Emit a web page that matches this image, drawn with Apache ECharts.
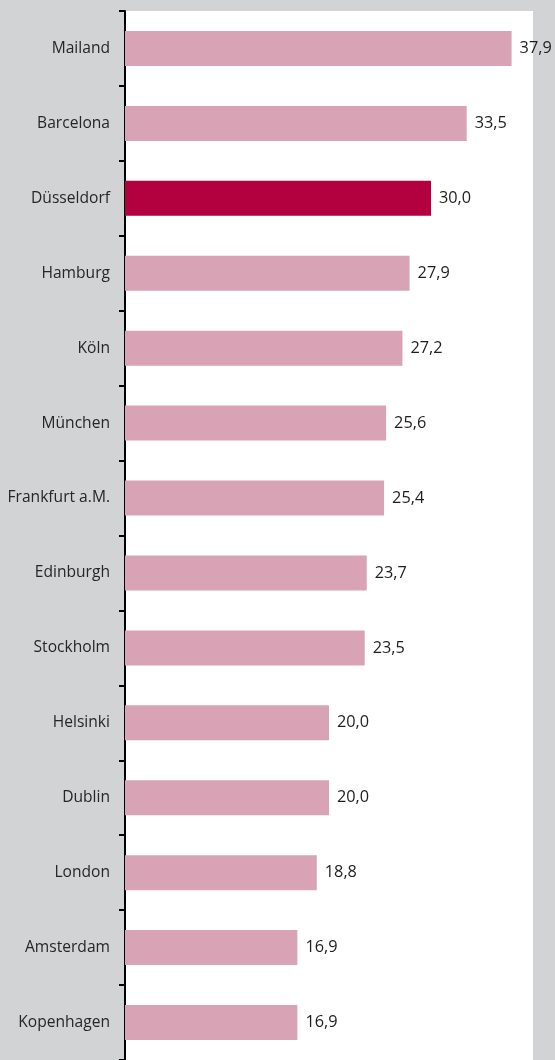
<!DOCTYPE html>
<html>
<head>
<meta charset="utf-8">
<script src="https://cdn.jsdelivr.net/npm/echarts@6/dist/echarts.min.js"></script>
<style>
  html, body { margin: 0; padding: 0; background: #d2d3d5; }
  #chart { width: 555px; height: 1060px; }
</style>
</head>
<body>
<div id="chart"></div>
<script>
// Cities, top to bottom
const cities = ['Mailand', 'Barcelona', 'Düsseldorf', 'Hamburg', 'Köln', 'München',
  'Frankfurt a.M.', 'Edinburgh', 'Stockholm', 'Helsinki', 'Dublin', 'London',
  'Amsterdam', 'Kopenhagen'];
const values = [37.9, 33.5, 30.0, 27.9, 27.2, 25.6, 25.4, 23.7, 23.5, 20.0, 20.0, 18.8, 16.9, 16.9];
const highlightCity = 'Düsseldorf';

const baseColor = '#d7a3b5';
const highlightColor = '#b3003f';
const textFont = '"Open Sans", sans-serif';

const chart = echarts.init(document.getElementById('chart'), null, { renderer: 'canvas' });

chart.setOption({
  backgroundColor: '#d2d3d5',
  animation: false,
  grid: {
    left: 125, top: 11, width: 408, height: 1050,
    show: true, backgroundColor: '#ffffff', borderWidth: 0
  },
  xAxis: {
    type: 'value', min: 0, max: 40, show: false
  },
  yAxis: {
    type: 'category',
    inverse: true,
    data: cities,
    offset: 1,
    axisLine: { show: true, lineStyle: { color: '#000', width: 2 } },
    axisTick: { show: true, length: 6, lineStyle: { color: '#000', width: 2 } },
    axisLabel: {
      margin: 14,
      color: '#262626',
      fontFamily: textFont,
      fontSize: 15.6
    },
    splitLine: { show: false }
  },
  series: [{
    type: 'bar',
    barWidth: 35,
    data: values.map((v, i) => ({
      value: v,
      itemStyle: { color: cities[i] === highlightCity ? highlightColor : baseColor }
    })),
    label: {
      show: true,
      position: 'right',
      distance: 8,
      color: '#1e1e1e',
      fontFamily: textFont,
      fontSize: 16.3,
      formatter: p => p.value.toFixed(1).replace('.', ',')
    }
  }]
});
</script>
</body>
</html>
